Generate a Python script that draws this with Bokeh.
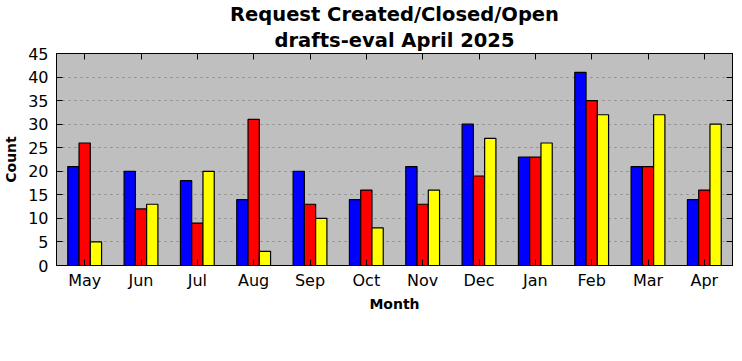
from bokeh.plotting import figure
from bokeh.models import (ColumnDataSource, FactorRange, Range1d, LinearAxis, CategoricalAxis,
                          Title, Legend, LegendItem, SingleIntervalTicker)
from bokeh.transform import dodge
from bokeh.embed import file_html
from bokeh.resources import INLINE

months = ["May", "Jun", "Jul", "Aug", "Sep", "Oct", "Nov", "Dec", "Jan", "Feb", "Mar", "Apr"]
new = [21, 20, 18, 14, 20, 14, 21, 30, 23, 41, 21, 14]
closed = [26, 12, 9, 31, 13, 16, 13, 19, 23, 35, 21, 16]
open_ = [5, 13, 20, 3, 10, 8, 16, 27, 26, 32, 32, 30]

src = ColumnDataSource(dict(month=months, new=new, closed=closed, open=open_))

FONT = "DejaVu Sans"

p = figure(x_range=FactorRange(*months, range_padding=0), y_range=Range1d(0, 45),
           frame_width=676, frame_height=212, output_backend="svg", toolbar_location=None,
           title=None, min_border_left=49, min_border_right=0, min_border_top=0,
           min_border_bottom=0, background_fill_color="#bfbfbf", border_fill_color="white",
           outline_line_color="black", outline_line_width=1)

r1 = p.vbar(x=dodge("month", -0.2, range=p.x_range), top="new", width=0.2, source=src,
            fill_color="#0000ff", line_color="black", line_width=1.2)
r2 = p.vbar(x=dodge("month", 0.0, range=p.x_range), top="closed", width=0.2, source=src,
            fill_color="#ff0000", line_color="black", line_width=1.2)
r3 = p.vbar(x=dodge("month", 0.2, range=p.x_range), top="open", width=0.2, source=src,
            fill_color="#ffff00", line_color="black", line_width=1.2)

p.xgrid.visible = False
p.ygrid.grid_line_color = "#888888"
p.ygrid.grid_line_dash = "2 4"
p.ygrid.grid_line_width = 1

p.yaxis.ticker = SingleIntervalTicker(interval=5)
for ax in [p.xaxis[0], p.yaxis[0]]:
    ax.major_tick_in = 6
    ax.major_tick_out = 0
    ax.minor_tick_line_color = None
    ax.axis_line_color = "black"
    ax.major_label_text_font = FONT
    ax.major_label_text_font_size = "16px"
    ax.major_label_text_color = "black"
    ax.axis_label_text_font = FONT
    ax.axis_label_text_font_style = "bold"
    ax.axis_label_text_font_size = "14px"
    ax.axis_label_text_color = "black"
p.xaxis.axis_label = "Month"
p.yaxis.axis_label = "Count"
p.xaxis.major_label_standoff = 5
p.yaxis.major_label_standoff = 4
p.xaxis.axis_label_standoff = 3
p.yaxis.axis_label_standoff = 6

# right axis (ticks only)
ra = LinearAxis(ticker=SingleIntervalTicker(interval=5), major_tick_in=6, major_tick_out=0,
                minor_tick_line_color=None, major_label_text_font_size="1px",
                major_label_text_color=None, major_label_standoff=0, axis_line_color="black")
p.add_layout(ra, "right")
# top axis (ticks only)
ta = CategoricalAxis(major_tick_in=6, major_tick_out=0, major_label_text_font_size="1px",
                     major_label_text_color=None, major_label_standoff=0,
                     axis_line_color="black")
p.add_layout(ta, "above")
# invisible spacer axis below, to reserve room for the legend
sa = CategoricalAxis(major_tick_in=0, major_tick_out=0, major_tick_line_color=None,
                     major_label_text_font_size="1px", major_label_text_color=None,
                     major_label_standoff=41, axis_line_color=None)
p.add_layout(sa, "below")

p.add_layout(Title(text="drafts-eval April 2025", align="center", text_font=FONT,
                   text_font_size="19.5px", text_font_style="bold", text_color="black",
                   standoff=3), "above")
p.add_layout(Title(text="Request Created/Closed/Open", align="center", text_font=FONT,
                   text_font_size="19.5px", text_font_style="bold", text_color="black",
                   standoff=0), "above")

legend = Legend(items=[LegendItem(label="New", renderers=[r1]),
                       LegendItem(label="Closed", renderers=[r2]),
                       LegendItem(label="Open", renderers=[r3])],
                orientation="horizontal", location=(192, -85),
                label_text_font=FONT, label_text_font_size="13px", label_text_color="black",
                glyph_width=28, glyph_height=9, spacing=29, padding=7, margin=0,
                border_line_color="black", border_line_width=1,
                label_standoff=9, label_height=12)
p.add_layout(legend)

open("out.html", "w").write(file_html(p, INLINE))
